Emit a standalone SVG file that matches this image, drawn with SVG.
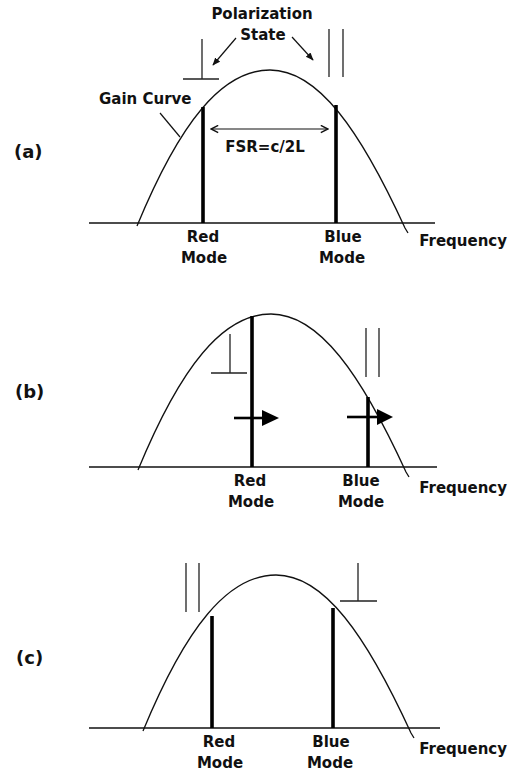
<svg xmlns="http://www.w3.org/2000/svg" width="518" height="776" viewBox="0 0 518 776">
<style>
  .t { font-family: "DejaVu Sans", "Liberation Sans", sans-serif; font-weight: bold; font-size: 15px; fill: #111; }
  .lbl { font-family: "DejaVu Sans", "Liberation Sans", sans-serif; font-weight: bold; font-size: 18px; fill: #111; }
  .axis { stroke: #111; stroke-width: 1.6; fill: none; }
  .curve { stroke: #111; stroke-width: 1.3; fill: none; }
  .mode { stroke: #000; stroke-width: 3.6; fill: none; }
  .sym { stroke: #222; stroke-width: 1.3; fill: none; }
  .thin { stroke: #111; stroke-width: 1.2; fill: none; }
  .shift { stroke: #000; stroke-width: 2.6; fill: none; }
</style>
<defs>
  <path id="gain" d="M137,226 C180,122 222,70 270,70 C318,70 360,130 405,228 L408,233"/>
  <marker id="head" viewBox="0 0 10 10" refX="9" refY="5" markerWidth="8" markerHeight="8" markerUnits="userSpaceOnUse" orient="auto">
    <path d="M0,1 L10,5 L0,9 Z" fill="#111"/>
  </marker>
  <marker id="vhead" viewBox="0 0 10 10" refX="9" refY="5" markerWidth="9" markerHeight="9" markerUnits="userSpaceOnUse" orient="auto-start-reverse">
    <path d="M1,1 L9,5 L1,9" fill="none" stroke="#111" stroke-width="1.6"/>
  </marker>
</defs>
<rect width="518" height="776" fill="#fff"/>

<g id="title">
  <text class="t" x="262" y="19" text-anchor="middle">Polarization</text>
  <text class="t" x="263" y="40" text-anchor="middle">State</text>
</g>

<g id="panel-a">
  <text class="lbl" x="14" y="158">(a)</text>
  <line class="axis" x1="89" y1="223" x2="435" y2="223"/>
  <use href="#gain" class="curve"/>
  <line class="mode" x1="203" y1="107" x2="203" y2="223"/>
  <line class="mode" x1="336" y1="105" x2="336" y2="223"/>
  <path class="sym" d="M202,39 V79 M183,79 H219"/>
  <path class="sym" d="M329,29 V77 M343,29 V77"/>
  <text class="t" x="99" y="104">Gain Curve</text>
  <text class="t" x="265" y="152" text-anchor="middle">FSR=c/2L</text>
  <text class="t" x="203" y="242" text-anchor="middle">Red</text>
  <text class="t" x="204" y="263" text-anchor="middle">Mode</text>
  <text class="t" x="343" y="242" text-anchor="middle">Blue</text>
  <text class="t" x="342" y="263" text-anchor="middle">Mode</text>
  <text class="t" x="507" y="246" text-anchor="end">Frequency</text>
</g>

<g id="panel-b">
  <text class="lbl" x="15" y="398">(b)</text>
  <line class="axis" x1="89" y1="467" x2="437" y2="467"/>
  <use href="#gain" class="curve" transform="translate(1,244)"/>
  <line class="mode" x1="252" y1="316" x2="252" y2="467"/>
  <line class="mode" x1="368" y1="397" x2="368" y2="467"/>
  <path class="sym" d="M230,334 V373 M211,373 H247"/>
  <path class="sym" d="M366,328 V377 M379,328 V377"/>
  <text class="t" x="250" y="486" text-anchor="middle">Red</text>
  <text class="t" x="251" y="507" text-anchor="middle">Mode</text>
  <text class="t" x="361" y="486" text-anchor="middle">Blue</text>
  <text class="t" x="361" y="507" text-anchor="middle">Mode</text>
  <text class="t" x="507" y="493" text-anchor="end">Frequency</text>
</g>

<g id="panel-c">
  <text class="lbl" x="16" y="664">(c)</text>
  <line class="axis" x1="89" y1="728" x2="440" y2="728"/>
  <use href="#gain" class="curve" transform="translate(6,505)"/>
  <line class="mode" x1="212" y1="616" x2="212" y2="728"/>
  <line class="mode" x1="333" y1="608" x2="333" y2="728"/>
  <path class="sym" d="M186,563 V612 M199,563 V612"/>
  <path class="sym" d="M358,563 V601 M340,601 H377"/>
  <text class="t" x="219" y="747" text-anchor="middle">Red</text>
  <text class="t" x="220" y="768" text-anchor="middle">Mode</text>
  <text class="t" x="331" y="747" text-anchor="middle">Blue</text>
  <text class="t" x="330" y="768" text-anchor="middle">Mode</text>
  <text class="t" x="507" y="754" text-anchor="end">Frequency</text>
</g>

<g id="connectors">
  <line class="thin" x1="236" y1="38" x2="213" y2="65" marker-end="url(#head)"/>
  <line class="thin" x1="292" y1="37" x2="313" y2="60" marker-end="url(#head)"/>
  <line class="thin" x1="160" y1="113" x2="180" y2="137"/>
  <line class="thin" x1="211" y1="129" x2="328" y2="129" marker-start="url(#vhead)" marker-end="url(#vhead)"/>
  <line class="shift" x1="234" y1="418" x2="264" y2="418"/>
  <polygon points="262,410 279,418 262,426" fill="#000"/>
  <line class="shift" x1="347" y1="417" x2="378" y2="417"/>
  <polygon points="377,409 393,417 377,425" fill="#000"/>
</g>
</svg>
